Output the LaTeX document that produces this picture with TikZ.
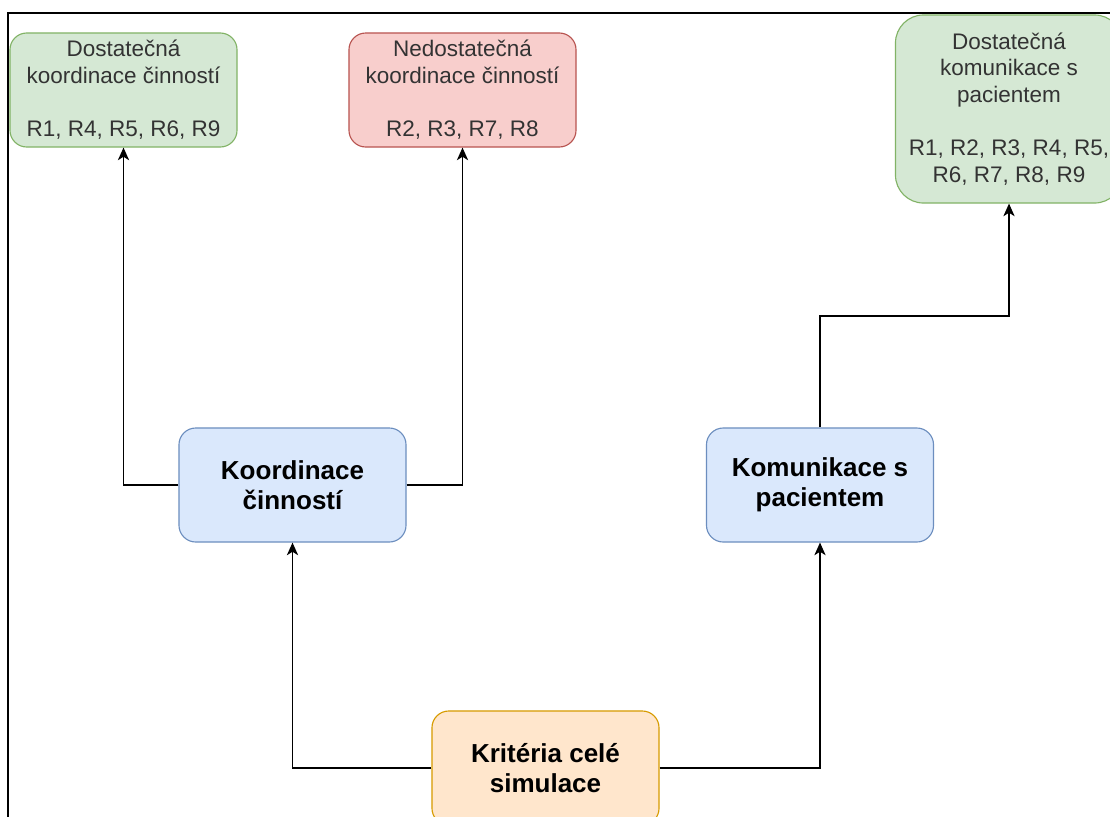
\documentclass[tikz,border=0pt]{standalone}
\usepackage{fontspec}
\setmainfont{Liberation Sans}
\usepackage{xcolor}
\usepackage{tikz}
\usetikzlibrary{arrows.meta, positioning, calc}

\definecolor{okfill}{HTML}{D5E8D4}
\definecolor{okline}{HTML}{82B366}
\definecolor{badfill}{HTML}{F8CECC}
\definecolor{badline}{HTML}{B85450}
\definecolor{areafill}{HTML}{DAE8FC}
\definecolor{arealine}{HTML}{6C8EBF}
\definecolor{rootfill}{HTML}{FFE6CC}
\definecolor{rootline}{HTML}{D79B00}

\begin{document}
\begin{tikzpicture}[
    x=0.025cm, y=-0.025cm,
    box/.style={rectangle, draw, line width=0.8pt, rounded corners=0.42cm, align=center, minimum width=5.675cm, minimum height=2.85cm},
    result/.style={box, text=black!80, font=\fontsize{16pt}{19pt}\selectfont},
    ok/.style={result, fill=okfill, draw=okline},
    bad/.style={result, fill=badfill, draw=badline},
    area/.style={box, fill=areafill, draw=arealine, font=\bfseries\fontsize{18.5pt}{21.5pt}\selectfont},
    root/.style={box, fill=rootfill, draw=rootline, font=\bfseries\fontsize{18.5pt}{21.5pt}\selectfont},
    arrow/.style={-{Stealth[length=9pt, width=8pt, inset=2.5pt]}, line width=1.1pt}
]
\useasboundingbox (0,0) rectangle (1110,816);
\fill[white] (0,0) rectangle (1110,816);
\draw[line width=1.4pt] (8,840) |- (1130,13);

\node[root] (kriteria) at (545.5,768) {Kritéria celé\\simulace};
\node[area] (koordinace) at (292.5,485) {Koordinace\\činností};
\node[area] (komunikace) at (820,485) {Komunikace s\\pacientem};
\node[ok] (dostkoord) at (123.5,90) {Dostatečná\\koordinace činností\\[19pt]R1, R4, R5, R6, R9};
\node[bad] (nedostkoord) at (462.5,90) {Nedostatečná\\koordinace činností\\[19pt]R2, R3, R7, R8};
\node[ok, minimum height=4.7cm, rounded corners=0.7cm] (dostkom) at (1009,109) {Dostatečná\\komunikace s\\pacientem\\[19pt]R1, R2, R3, R4, R5,\\R6, R7, R8, R9};

\coordinate (bend) at (820,316);

\draw[arrow] (kriteria.west) -| (koordinace.south);
\draw[arrow] (kriteria.east) -| (komunikace.south);
\draw[arrow] (koordinace.west) -| (dostkoord.south);
\draw[arrow] (koordinace.east) -| (nedostkoord.south);
\draw[arrow] (komunikace.north) -- (bend) -| (dostkom.south);

\end{tikzpicture}
\end{document}
